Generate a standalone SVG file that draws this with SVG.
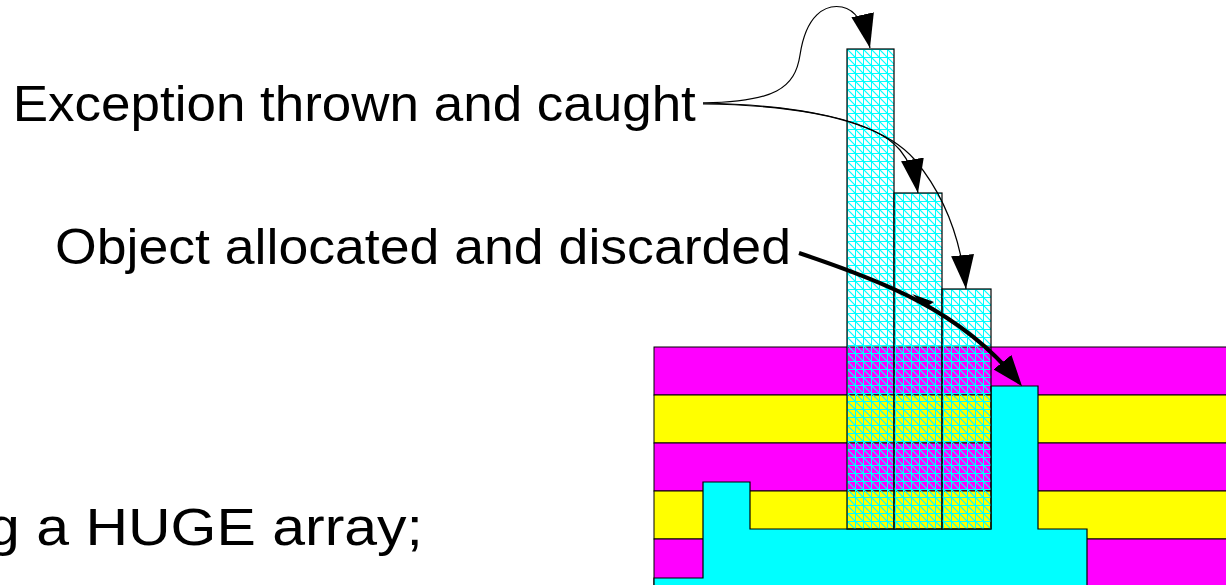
<svg xmlns="http://www.w3.org/2000/svg" width="1226" height="585" viewBox="0 0 1226 585">
  <style>
    .label { font-family: "Liberation Sans", Arial, sans-serif; font-size: 50px; fill: #000; }
    .band { stroke: #000; stroke-width: 1; }
    .magenta { fill: #ff00ff; }
    .yellow { fill: #ffff00; }
    .heap { fill: #00ffff; stroke: #000; stroke-width: 1.2; }
    .frame { fill: url(#hatch); stroke: #000; stroke-width: 1.2; }
    .thin { fill: none; stroke: #000; stroke-width: 1.2; }
    .thick { fill: none; stroke: #000; stroke-width: 4; }
  </style>
  <defs>
    <!-- cyan grid with a diagonal in every cell -->
    <pattern id="hatch" patternUnits="userSpaceOnUse" x="847" y="49" width="8" height="8">
      <path d="M0.5,0 V8 M0,0.5 H8" stroke="#00ffff" stroke-width="1" fill="none" shape-rendering="crispEdges"/>
      <path d="M-1,-1 L9,9" stroke="#00ffff" stroke-width="1.2" fill="none"/>
    </pattern>
    <marker id="head" markerUnits="userSpaceOnUse" viewBox="0 0 34 23" markerWidth="34" markerHeight="23" refX="34" refY="11.5" orient="auto">
      <path d="M0,0 L34,11.5 L0,23 z" fill="#000"/>
    </marker>
    <marker id="headBold" markerUnits="userSpaceOnUse" viewBox="0 0 31 23" markerWidth="31" markerHeight="23" refX="23" refY="11.5" orient="auto">
      <path d="M0,0 L31,11.5 L0,23 z" fill="#000"/>
    </marker>
  </defs>

  <rect width="1226" height="585" fill="#fff"/>

  <!-- heap bands -->
  <g id="heap-bands">
    <rect class="band magenta" x="654" y="347" width="580" height="48"/>
    <rect class="band yellow" x="654" y="395" width="580" height="48"/>
    <rect class="band magenta" x="654" y="443" width="580" height="48"/>
    <rect class="band yellow" x="654" y="491" width="580" height="48"/>
    <rect class="band magenta" x="654" y="539" width="580" height="60"/>
  </g>

  <!-- huge array block -->
  <g id="huge-array">
    <polygon class="heap" points="654,590 654,578 703,578 703,482 750,482 750,529 991,529 991,386 1038,386 1038,529 1087,529 1087,590"/>
  </g>

  <!-- stack frames -->
  <g id="frame-1">
    <rect class="frame" x="847" y="49" width="47" height="480"/>
  </g>
  <g id="frame-2">
    <rect class="frame" x="894" y="193" width="48" height="336"/>
  </g>
  <g id="frame-3">
    <rect class="frame" x="942" y="289" width="49" height="240"/>
  </g>

  <!-- connectors -->
  <g id="connectors">
    <path class="thin" marker-end="url(#head)" d="M703,103 C775,102 795,88 800,55 C806,15 825,4 842,7 C858,10 866,30 870,48"/>
    <path class="thin" marker-end="url(#head)" d="M703,103 C800,105 875,120 900,150 C910,162 915,175 918,193"/>
    <path class="thin" marker-end="url(#head)" d="M703,104 C800,105 880,119 915,160 C940,190 960,230 966,289"/>
    <path class="thick" marker-end="url(#headBold)" d="M799,253 C880,280 960,310 1017,380"/>
    <path d="M912,294 L934,302 L926,307 z" fill="#000"/>
  </g>

  <!-- labels -->
  <g id="label-exception">
    <text class="label" x="12.8" y="121" textLength="683" lengthAdjust="spacingAndGlyphs">Exception thrown and caught</text>
  </g>
  <g id="label-object">
    <text class="label" x="55" y="264" textLength="736" lengthAdjust="spacingAndGlyphs">Object allocated and discarded</text>
  </g>
  <g id="label-array">
    <text class="label" x="-13" y="545" textLength="436" lengthAdjust="spacingAndGlyphs" style="font-size:51px">g a HUGE array;</text>
  </g>
</svg>
